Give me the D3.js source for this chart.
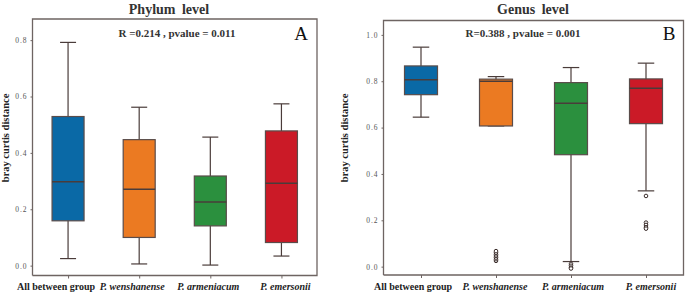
<!DOCTYPE html>
<html lang="en">
<head>
    <meta charset="UTF-8">
    <title>Bray curtis distance boxplots</title>
    <script src="https://cdn.jsdelivr.net/npm/d3@7"></script>
    <style>
        body{
            margin:0px;
            background:white;
        }
        text{ font-family:"Liberation Serif", "Times New Roman", serif; }
    </style>
</head>
<body>
    <svg id="chart" width="685" height="295"></svg>
</body>
<script>
    // groups and box stats [low whisker, q1, median, q3, high whisker]
    const groups = ["All between group", "P. wenshanense", "P. armeniacum", "P. emersonii"];
    const colors = ["#0a69a6", "#eb7a22", "#2b903e", "#cb1a27"];

    const phylumBoxes = [
        [0.025, 0.159, 0.298, 0.529, 0.792],
        [0.006, 0.100, 0.271, 0.447, 0.562],
        [0.002, 0.141, 0.226, 0.318, 0.456],
        [0.034, 0.082, 0.292, 0.478, 0.574]
    ];
    const phylumOutliers = [[], [], [], []];

    const genusBoxes = [
        [0.645, 0.742, 0.806, 0.866, 0.947],
        [0.607, 0.607, 0.800, 0.809, 0.820],
        [0.022, 0.483, 0.705, 0.794, 0.859],
        [0.327, 0.617, 0.770, 0.810, 0.878]
    ];
    const genusOutliers = [
        [],
        [0.025, 0.032, 0.039, 0.046, 0.053, 0.060, 0.067],
        [0.012, 0.004, -0.004, -0.008],
        [0.305, 0.190, 0.180, 0.170, 0.164]
    ];

    const phylumTicks = [0, 0.2, 0.4, 0.6, 0.8];
    const genusTicks = [0, 0.2, 0.4, 0.6, 0.8, 1.0];

    const svg = d3.select('#chart');
    const frameCol = '#6e6462';
    const lineCol = '#4a3c3a';

    function drawPanel(p){
        let g = svg.append('g');
        let y = d3.scaleLinear().domain(p.yDomain).range([p.bottom, p.top]);
        let x = d3.scalePoint().domain(groups).range([p.left, p.right]).padding(0.5);
        let bw = p.boxW;

        // frame: left, top, right + bottom axis
        g.append('path')
            .attr('d', `M${p.left},${p.bottom}V${p.top}H${p.right}V${p.bottom}H${p.left}`)
            .attr('fill','none').attr('stroke',frameCol).attr('stroke-width',1.3);

        // y axis
        let yAxis = d3.axisLeft(y).tickValues(p.ticks).tickFormat(d3.format('.1f')).tickSize(2).tickPadding(3);
        let ya = g.append('g').attr('transform',`translate(${p.left},0)`).call(yAxis);
        ya.select('.domain').remove();
        ya.selectAll('line').attr('stroke',frameCol);
        ya.selectAll('text').attr('font-family','"DejaVu Serif", serif').attr('font-size','7.5px')
            .attr('fill','#555').attr('letter-spacing','1px');

        // x axis
        let xAxis = d3.axisBottom(x).tickSize(3).tickFormat('');
        let xa = g.append('g').attr('transform',`translate(0,${p.bottom})`).call(xAxis);
        xa.select('.domain').remove();
        xa.selectAll('line').attr('stroke',frameCol);

        groups.forEach(function(name, i){
            g.append('text')
                .attr('x', x(name) + p.labelDx[i])
                .attr('y', 290)
                .attr('text-anchor','middle')
                .attr('font-size','10px')
                .attr('font-weight','bold')
                .attr('font-style', i == 0 ? 'normal' : 'italic')
                .attr('fill','#222')
                .text(name);
        });

        // boxes
        p.boxes.forEach(function(b, i){
            let cx = x(groups[i]);
            g.append('line').attr('x1',cx).attr('x2',cx).attr('y1',y(b[0])).attr('y2',y(b[4]))
                .attr('stroke',lineCol).attr('stroke-width',1.2);
            [b[0], b[4]].forEach(function(v){
                g.append('line').attr('x1',cx-bw/4).attr('x2',cx+bw/4).attr('y1',y(v)).attr('y2',y(v))
                    .attr('stroke',lineCol).attr('stroke-width',1.2);
            });
            g.append('rect')
                .attr('x',cx-bw/2).attr('width',bw)
                .attr('y',y(b[3])).attr('height',y(b[1])-y(b[3]))
                .attr('fill',colors[i]).attr('stroke','#5a4c4a').attr('stroke-width',1.2);
            g.append('line').attr('x1',cx-bw/2).attr('x2',cx+bw/2).attr('y1',y(b[2])).attr('y2',y(b[2]))
                .attr('stroke',lineCol).attr('stroke-width',1.5);
            p.outliers[i].forEach(function(v){
                g.append('circle').attr('cx',cx).attr('cy',y(v)).attr('r',1.8)
                    .attr('fill','white').attr('stroke','#3a2c2a').attr('stroke-width',1);
            });
        });

        // titles and annotations
        g.append('text').attr('x',p.titleX).attr('y',14).attr('text-anchor','middle')
            .attr('font-size','14px').attr('font-weight','bold').attr('fill','#333').attr('word-spacing','3px').text(p.title);
        g.append('text').attr('x',p.statX).attr('y',37).attr('text-anchor','middle')
            .attr('font-size','11px').attr('font-weight','bold').attr('fill','#333').text(p.stat);
        g.append('text').attr('x',p.letterX).attr('y',40).attr('text-anchor','middle')
            .attr('font-size','19px').attr('fill','#111').text(p.letter);
        g.append('text').attr('transform',`translate(${p.ylabX},138) rotate(-90)`).attr('text-anchor','middle')
            .attr('font-size','10.5px').attr('font-weight','bold').attr('fill','#222').text('bray curtis distance');
    }

    drawPanel({
        left:32.5, right:317, top:19, bottom:275.5,
        yDomain:[-0.035, 0.875], ticks:phylumTicks, boxW:32,
        boxes:phylumBoxes, outliers:phylumOutliers,
        labelDx:[-12, -7, -2, 4],
        title:'Phylum level', titleX:169,
        stat:'R =0.214 , pvalue = 0.011', statX:177,
        letter:'A', letterX:301, ylabX:9
    });
    drawPanel({
        left:383.5, right:683.5, top:20.5, bottom:275,
        yDomain:[-0.036, 1.062], ticks:genusTicks, boxW:33,
        boxes:genusBoxes, outliers:genusOutliers,
        labelDx:[-8, -1, 2, 5],
        title:'Genus level', titleX:533,
        stat:'R=0.388 , pvalue = 0.001', statX:523,
        letter:'B', letterX:669, ylabX:348
    });
</script>
</html>
